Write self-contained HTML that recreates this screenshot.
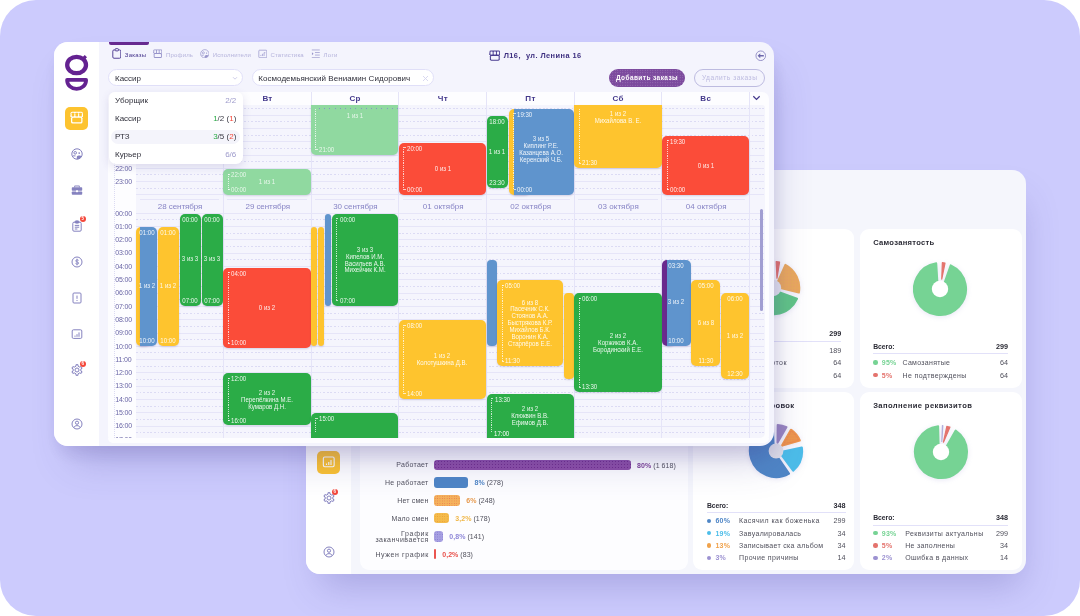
<!DOCTYPE html>
<html lang="ru"><head><meta charset="utf-8"><title>Расписание</title>
<style>
html,body{margin:0;padding:0;background:#fff}
body{width:1080px;height:616px;overflow:hidden;font-family:"Liberation Sans",sans-serif}
#stage{position:relative;width:1080px;height:616px;background:#cccbfd;border-radius:36px;overflow:hidden}
.win{position:absolute;width:720px;height:404px;border-radius:14px;background:#f4f4fd;box-shadow:8px 24px 38px -10px rgba(70,60,150,.26),2px 10px 18px -4px rgba(60,50,120,.15)}
.clip{position:absolute;left:0;top:0;width:720px;height:404px;border-radius:14px;overflow:hidden}
.clip div,.clip svg{position:absolute}
.t{white-space:nowrap}
.clip{will-change:transform}
.side{left:0;top:0;width:45px;height:404px;background:#fff}
.ev{border-radius:5px;box-shadow:0 1px 2px rgba(60,50,120,.18)}
.dl{width:1px;background:repeating-linear-gradient(180deg,rgba(255,255,255,.72) 0 1.2px,transparent 1.2px 2.2px)}
.tk{height:1px;background:rgba(255,255,255,.7)}
.hl{height:0;border-top:1px solid #e6e5f8}
.hd{height:1px;background:repeating-linear-gradient(90deg,#dcdbf4 0 1.8px,transparent 1.8px 3.6px)}
.vl{width:0;border-left:1px solid #e5e4f8}
.vd{width:0;border-left:1px dotted #dcdbf3}
.card{background:#fff;border-radius:9px}
</style></head>
<body><div id="stage">
<div class="win" style="left:306px;top:170px;background:#f5f6fc;box-shadow:5px 22px 36px -10px rgba(70,60,150,.26)"><div class="clip">
<div class="side" style="left:0px;top:0px;width:45px;height:404px;"></div>
<svg style="left:10px;top:9px" width="26" height="41" viewBox="0 0 26 41" ><g fill="none" stroke="#642291" stroke-width="4.3"><ellipse cx="12.6" cy="14" rx="9.4" ry="8.2"/><path d="M18.6 8.4l3.3-3.3" stroke-width="3.2"/><path d="M3.1 28.9h19c0 5.4-4.2 9-9.5 9s-9.5-3.6-9.5-9z" stroke-linejoin="round" stroke-width="3.8"/></g></svg>
<svg style="left:16.5px;top:70.5px" width="12" height="12" viewBox="0 0 12 12" ><rect x=".5" y=".6" width="11" height="5" rx="1.4" fill="#8582bf"/><path d="M.2 5.2L1 3.2h10l.8 2z" fill="#8582bf"/><rect x="1.5" y="1.6" width="2.3" height="3.3" rx=".4" fill="#fff"/><rect x="4.8" y="1.6" width="2.4" height="3.3" rx=".4" fill="#fff"/><rect x="8.2" y="1.6" width="2.3" height="3.3" rx=".4" fill="#fff"/><rect x=".9" y="5" width="10.2" height="6.2" rx="1.5" fill="#8582bf"/><rect x="2" y="6.1" width="8" height="3.9" rx=".7" fill="#fff"/></svg>
<svg style="left:16.5px;top:106px" width="12" height="12" viewBox="0 0 12 12" ><g fill="none" stroke="#8582bf" stroke-width="1"><circle cx="6" cy="6" r="5.2"/><circle cx="4.2" cy="4.8" r="1.3"/><path d="M2.4 7.9h1.7" stroke-linecap="round"/></g><circle cx="8.2" cy="5.1" r=".85" fill="#8582bf"/><path d="M5.8 8.6c1-1.3 3.8-1.3 4.9-.4c-.8 1.9-2.6 3-4.9 3z" fill="#8582bf"/></svg>
<svg style="left:16.5px;top:142px" width="12" height="12" viewBox="0 0 12 12" ><g fill="#8582bf"><path d="M4 1.6h4a.8.8 0 0 1 .8.8V3.4H7.9V2.5H4.1v.9H3.2V2.4a.8.8 0 0 1 .8-.8z"/><rect x=".8" y="3.2" width="10.4" height="3.6" rx=".8"/><rect x=".8" y="7.5" width="10.4" height="3.3" rx=".8"/><rect x="5" y="6.2" width="2" height="2" rx=".4" fill="#fff"/></g></svg>
<svg style="left:16.5px;top:178px" width="12" height="12" viewBox="0 0 12 12" ><g fill="none" stroke="#8582bf" stroke-width="1" stroke-linejoin="round"><rect x="1.8" y="2.2" width="8.4" height="9" rx="1.2"/><rect x="4.2" y=".9" width="3.6" height="2.2" rx=".6" fill="#8582bf"/><path d="M3.8 5.4h4.4M3.8 7.2h4.4M3.8 9h2.6"/></g></svg>
<div style="left:25.7px;top:174.2px;width:6px;height:6px;border-radius:50%;background:#f4473a"></div>
<div class="t" style="left:28.7px;top:174.2px;font-size:4.5px;line-height:6px;color:#fff;font-weight:700;transform:translateX(-50%);transform-origin:center center;">5</div>
<svg style="left:16.5px;top:214px" width="12" height="12" viewBox="0 0 12 12" ><g fill="none" stroke="#8582bf" stroke-width="1"><circle cx="6" cy="6" r="5"/><path d="M7.6 4.4c-.3-.7-2.9-.9-2.9.5c0 1.5 3 .7 3 2.2c0 1.4-2.8 1.2-3.2.3M6 2.7v6.6" stroke-width=".9"/></g></svg>
<svg style="left:16.5px;top:250px" width="12" height="12" viewBox="0 0 12 12" ><g fill="none" stroke="#8582bf" stroke-width="1"><rect x="2" y="1" width="8" height="10" rx="1"/><path d="M6 3.6v3.2M6 8v1"/></g></svg>
<div style="left:11px;top:280.5px;width:23px;height:23px;border-radius:5px;background:#fdc32f"></div>
<svg style="left:15.75px;top:284.65px" width="13.5" height="13.5" viewBox="0 0 12 12" ><g fill="none" stroke="#fff" stroke-width="1"><rect x="1.2" y="1.8" width="9.6" height="8.6" rx="1.2"/><path d="M4 8.8V7.6M6 8.8V6.2M8 8.8V4.4"/></g></svg>
<svg style="left:16.5px;top:322px" width="12" height="12" viewBox="0 0 12 12" ><g fill="none" stroke="#8582bf" stroke-width="1" stroke-linejoin="round"><path d="M4.98 0.7L7.02 0.7L7 2.13L8.85 3.19L10.08 2.47L11.1 4.23L9.86 4.93L9.86 7.07L11.1 7.77L10.08 9.53L8.85 8.81L7 9.87L7.02 11.3L4.98 11.3L5 9.87L3.15 8.81L1.92 9.53L0.9 7.77L2.14 7.07L2.14 4.93L0.9 4.23L1.92 2.47L3.15 3.19L5 2.13Z"/><circle cx="6" cy="6" r="2"/></g></svg>
<div style="left:25.8px;top:318.8px;width:6px;height:6px;border-radius:50%;background:#f4473a"></div>
<div class="t" style="left:28.8px;top:318.8px;font-size:4.5px;line-height:6px;color:#fff;font-weight:700;transform:translateX(-50%);transform-origin:center center;">6</div>
<svg style="left:16.5px;top:375.8px" width="12" height="12" viewBox="0 0 12 12" ><g fill="none" stroke="#8582bf" stroke-width="1"><circle cx="6" cy="6" r="5"/><circle cx="6" cy="4.7" r="1.6"/><path d="M2.9 9.6c.6-2.6 5.6-2.6 6.2 0"/></g></svg>
<div class="card" style="left:387.4px;top:58.5px;width:160.6px;height:159px;"></div>
<svg style="left:435.2px;top:86.2px;filter:drop-shadow(0 1px 2.5px rgba(110,100,190,.16))" width="64" height="64" viewBox="0 0 64 64" ><path d="M56 42.76A26.3 26.3 0 1 1 27.82 6.03L30.11 32.17L31.35 33.79Z" fill="#62c688" stroke="#62c688" stroke-width="2" stroke-linejoin="round"/><pattern id="pt1" width="1.8" height="1.8" patternUnits="userSpaceOnUse"><circle cx="0.9" cy="0.9" r="0.4" fill="rgba(60,160,100,.5)"/></pattern><path d="M56 42.76A26.3 26.3 0 1 1 27.82 6.03L30.11 32.17L31.35 33.79Z" fill="url(#pt1)"/><path d="M35.16 5.49A26.7 26.7 0 0 1 38.56 6.12L35.97 22.17Z" fill="#e4736d" stroke="#e4736d" stroke-width="1.2" stroke-linejoin="round"/><path d="M44.4 8.81A26.3 26.3 0 0 1 57.91 36.5L34.66 30.7Z" fill="#eaa95c" stroke="#eaa95c" stroke-width="2" stroke-linejoin="round"/><pattern id="pt2" width="3.2" height="3.2" patternUnits="userSpaceOnUse"><circle cx="1.6" cy="1.6" r="0.45" fill="rgba(240,120,140,.55)"/></pattern><path d="M44.4 8.81A26.3 26.3 0 0 1 57.91 36.5L34.66 30.7Z" fill="url(#pt2)"/><circle cx="32.0" cy="32.0" r="8.2" fill="#e4e4ee"/></svg>
<div class="t" style="left:400.9px;top:158.9px;font-size:6.8px;line-height:9px;color:#2b2b35;font-weight:700;letter-spacing:-0.067px;">Всего:</div>
<div class="t" style="left:535.3px;top:158.9px;font-size:7.2px;line-height:9px;color:#2b2b35;font-weight:700;transform:translateX(-100%);transform-origin:right center;">299</div>
<div style="left:400.9px;top:170.6px;width:134.4px;height:1px;background:#e2e1f9"></div>
<div style="left:401.1px;top:178.2px;width:4.4px;height:4.4px;background:#76d394;border-radius:50%"></div>
<div class="t" style="left:409.5px;top:175.9px;font-size:7px;line-height:9px;color:#76d394;font-weight:700;letter-spacing:0.2px;">63%</div>
<div class="t" style="left:423.5px;top:175.9px;font-size:7px;line-height:9px;color:#50505c;letter-spacing:0.35px;">Работают</div>
<div class="t" style="left:535.3px;top:175.9px;font-size:7.2px;line-height:9px;color:#50505c;transform:translateX(-100%);transform-origin:right center;">189</div>
<div style="left:401.1px;top:190.6px;width:4.4px;height:4.4px;background:#eaa95c;border-radius:50%"></div>
<div class="t" style="left:409.5px;top:188.3px;font-size:7px;line-height:9px;color:#eaa95c;font-weight:700;letter-spacing:0.2px;">21%</div>
<div class="t" style="left:423.5px;top:188.3px;font-size:7px;line-height:9px;color:#50505c;letter-spacing:0.454px;">Нет подработок</div>
<div class="t" style="left:535.3px;top:188.3px;font-size:7.2px;line-height:9px;color:#50505c;transform:translateX(-100%);transform-origin:right center;">64</div>
<div style="left:401.1px;top:203px;width:4.4px;height:4.4px;background:#e4736d;border-radius:50%"></div>
<div class="t" style="left:409.5px;top:200.7px;font-size:7px;line-height:9px;color:#e4736d;font-weight:700;letter-spacing:0.2px;">21%</div>
<div class="t" style="left:423.5px;top:200.7px;font-size:7px;line-height:9px;color:#50505c;letter-spacing:0.35px;">Уволены</div>
<div class="t" style="left:535.3px;top:200.7px;font-size:7.2px;line-height:9px;color:#50505c;transform:translateX(-100%);transform-origin:right center;">64</div>
<div class="card" style="left:553.5px;top:58.5px;width:162px;height:159px;"></div>
<div class="t" style="left:567.2px;top:67.6px;font-size:7.6px;line-height:10px;color:#2b2b35;font-weight:700;letter-spacing:0.284px;">Самозанятость</div>
<svg style="left:602.3px;top:86.8px;filter:drop-shadow(0 1px 2.5px rgba(110,100,190,.16))" width="64" height="64" viewBox="0 0 64 64" ><path d="M42.72 8.31A26 26 0 1 1 28.22 6.28L29.8 32.13L34.07 32.73Z" fill="#76d394" stroke="#76d394" stroke-width="2" stroke-linejoin="round"/><path d="M34.35 5.7A26.4 26.4 0 0 1 36.99 6.08L33.75 22.05Z" fill="#e4736d" stroke="#e4736d" stroke-width="1.2" stroke-linejoin="round"/><circle cx="32.0" cy="32.0" r="8.2" fill="#fff"/></svg>
<div class="t" style="left:567.2px;top:171.5px;font-size:6.8px;line-height:9px;color:#2b2b35;font-weight:700;letter-spacing:-0.067px;">Всего:</div>
<div class="t" style="left:702px;top:171.5px;font-size:7.2px;line-height:9px;color:#2b2b35;font-weight:700;transform:translateX(-100%);transform-origin:right center;">299</div>
<div style="left:567.2px;top:183.2px;width:134.8px;height:1px;background:#e2e1f9"></div>
<div style="left:567.4px;top:190.3px;width:4.4px;height:4.4px;background:#76d394;border-radius:50%"></div>
<div class="t" style="left:575.8px;top:188px;font-size:7px;line-height:9px;color:#76d394;font-weight:700;letter-spacing:0.2px;">95%</div>
<div class="t" style="left:596.5px;top:188px;font-size:7px;line-height:9px;color:#50505c;letter-spacing:0.296px;">Самозанятые</div>
<div class="t" style="left:702px;top:188px;font-size:7.2px;line-height:9px;color:#50505c;transform:translateX(-100%);transform-origin:right center;">64</div>
<div style="left:567.4px;top:202.8px;width:4.4px;height:4.4px;background:#e4736d;border-radius:50%"></div>
<div class="t" style="left:575.8px;top:200.5px;font-size:7px;line-height:9px;color:#e4736d;font-weight:700;letter-spacing:0.2px;">5%</div>
<div class="t" style="left:596.5px;top:200.5px;font-size:7px;line-height:9px;color:#50505c;letter-spacing:0.361px;">Не подтверждены</div>
<div class="t" style="left:702px;top:200.5px;font-size:7.2px;line-height:9px;color:#50505c;transform:translateX(-100%);transform-origin:right center;">64</div>
<div class="card" style="left:387.4px;top:222px;width:160.6px;height:178px;"></div>
<div class="t" style="left:488.3px;top:230.6px;font-size:7.6px;line-height:10px;color:#2b2b35;font-weight:700;letter-spacing:0.3px;transform:translateX(-100%);transform-origin:right center;">Причины блокировок</div>
<svg style="left:438.2px;top:249.1px;filter:drop-shadow(0 1px 2.5px rgba(110,100,190,.16))" width="64" height="64" viewBox="0 0 64 64" ><path d="M45 54.63A26.1 26.1 0 1 1 28.77 6.1L29.9 32.09L30.27 33.19Z" fill="#4f86c6" stroke="#4f86c6" stroke-width="2" stroke-linejoin="round"/><path d="M57.85 28.42A26.1 26.1 0 0 1 49.16 51.66L35.61 33.35Z" fill="#4cbde9" stroke="#4cbde9" stroke-width="2" stroke-linejoin="round"/><path d="M47.1 10.96A25.9 25.9 0 0 1 55.63 21.4L38.29 26.43Z" fill="#f0a24b" stroke="#f0a24b" stroke-width="2.4" stroke-linejoin="round"/><pattern id="pt3" width="1.6" height="1.6" patternUnits="userSpaceOnUse"><circle cx="0.8" cy="0.8" r="0.5" fill="rgba(232,82,74,.55)"/></pattern><path d="M47.1 10.96A25.9 25.9 0 0 1 55.63 21.4L38.29 26.43Z" fill="url(#pt3)" stroke="url(#pt3)" stroke-width="2.4" stroke-linejoin="round"/><path d="M33.68 5.95A26.1 26.1 0 0 1 42.53 8.12L33.48 23.63Z" fill="#9a86c0" stroke="#9a86c0" stroke-width="2" stroke-linejoin="round"/><circle cx="32.0" cy="32.0" r="7.4" fill="#dedee8"/></svg>
<div class="t" style="left:400.9px;top:330.5px;font-size:6.8px;line-height:9px;color:#2b2b35;font-weight:700;letter-spacing:-0.067px;">Всего:</div>
<div class="t" style="left:539.6px;top:330.5px;font-size:7.2px;line-height:9px;color:#2b2b35;font-weight:700;transform:translateX(-100%);transform-origin:right center;">348</div>
<div style="left:400.9px;top:342.2px;width:138.7px;height:1px;background:#e2e1f9"></div>
<div style="left:401.1px;top:348.7px;width:4.4px;height:4.4px;background:#4f86c6;border-radius:50%"></div>
<div class="t" style="left:409.5px;top:346.4px;font-size:7px;line-height:9px;color:#4f86c6;font-weight:700;letter-spacing:0.2px;">60%</div>
<div class="t" style="left:433px;top:346.4px;font-size:7px;line-height:9px;color:#50505c;letter-spacing:0.443px;">Касячил как боженька</div>
<div class="t" style="left:539.6px;top:346.4px;font-size:7.2px;line-height:9px;color:#50505c;transform:translateX(-100%);transform-origin:right center;">299</div>
<div style="left:401.1px;top:361px;width:4.4px;height:4.4px;background:#4cbde9;border-radius:50%"></div>
<div class="t" style="left:409.5px;top:358.7px;font-size:7px;line-height:9px;color:#4cbde9;font-weight:700;letter-spacing:0.2px;">19%</div>
<div class="t" style="left:433px;top:358.7px;font-size:7px;line-height:9px;color:#50505c;letter-spacing:0.326px;">Завуалировалась</div>
<div class="t" style="left:539.6px;top:358.7px;font-size:7.2px;line-height:9px;color:#50505c;transform:translateX(-100%);transform-origin:right center;">34</div>
<div style="left:401.1px;top:373.3px;width:4.4px;height:4.4px;background:#f0a24b;border-radius:50%"></div>
<div class="t" style="left:409.5px;top:371px;font-size:7px;line-height:9px;color:#f0a24b;font-weight:700;letter-spacing:0.2px;">13%</div>
<div class="t" style="left:433px;top:371px;font-size:7px;line-height:9px;color:#50505c;letter-spacing:0.32px;">Записывает ска альбом</div>
<div class="t" style="left:539.6px;top:371px;font-size:7.2px;line-height:9px;color:#50505c;transform:translateX(-100%);transform-origin:right center;">34</div>
<div style="left:401.1px;top:385.6px;width:4.4px;height:4.4px;background:#9c92d1;border-radius:50%"></div>
<div class="t" style="left:409.5px;top:383.3px;font-size:7px;line-height:9px;color:#9c92d1;font-weight:700;letter-spacing:0.2px;">3%</div>
<div class="t" style="left:433px;top:383.3px;font-size:7px;line-height:9px;color:#50505c;letter-spacing:0.399px;">Прочие причины</div>
<div class="t" style="left:539.6px;top:383.3px;font-size:7.2px;line-height:9px;color:#50505c;transform:translateX(-100%);transform-origin:right center;">14</div>
<div class="card" style="left:553.5px;top:222px;width:162px;height:178px;"></div>
<div class="t" style="left:567.2px;top:230.6px;font-size:7.6px;line-height:10px;color:#2b2b35;font-weight:700;letter-spacing:0.403px;">Заполнение реквизитов</div>
<svg style="left:602.5px;top:249.5px;filter:drop-shadow(0 1px 2.5px rgba(110,100,190,.16))" width="64" height="64" viewBox="0 0 64 64" ><path d="M46.67 10.54A26 26 0 1 1 29.12 6.16L29.8 32.06L33.91 33.08Z" fill="#76d394" stroke="#76d394" stroke-width="2" stroke-linejoin="round"/><path d="M37.85 6.26A26.4 26.4 0 0 1 40.9 7.14L34.44 22.2Z" fill="#e4736d" stroke="#e4736d" stroke-width="1.2" stroke-linejoin="round"/><path d="M33.8 5.66A26.4 26.4 0 0 1 33.43 5.64L32.83 21.43Z" fill="#b4afdc" stroke="#b4afdc" stroke-width="1.2" stroke-linejoin="round"/><circle cx="32.0" cy="32.0" r="8.2" fill="#fff"/></svg>
<div class="t" style="left:567.2px;top:342.9px;font-size:6.8px;line-height:9px;color:#2b2b35;font-weight:700;letter-spacing:-0.067px;">Всего:</div>
<div class="t" style="left:702px;top:342.9px;font-size:7.2px;line-height:9px;color:#2b2b35;font-weight:700;transform:translateX(-100%);transform-origin:right center;">348</div>
<div style="left:567.2px;top:354.6px;width:134.8px;height:1px;background:#e2e1f9"></div>
<div style="left:567.4px;top:360.9px;width:4.4px;height:4.4px;background:#76d394;border-radius:50%"></div>
<div class="t" style="left:575.8px;top:358.6px;font-size:7px;line-height:9px;color:#76d394;font-weight:700;letter-spacing:0.2px;">93%</div>
<div class="t" style="left:599.2px;top:358.6px;font-size:7px;line-height:9px;color:#50505c;letter-spacing:0.416px;">Реквизиты актуальны</div>
<div class="t" style="left:702px;top:358.6px;font-size:7.2px;line-height:9px;color:#50505c;transform:translateX(-100%);transform-origin:right center;">299</div>
<div style="left:567.4px;top:373.2px;width:4.4px;height:4.4px;background:#e4736d;border-radius:50%"></div>
<div class="t" style="left:575.8px;top:370.9px;font-size:7px;line-height:9px;color:#e4736d;font-weight:700;letter-spacing:0.2px;">5%</div>
<div class="t" style="left:599.2px;top:370.9px;font-size:7px;line-height:9px;color:#50505c;letter-spacing:0.312px;">Не заполнены</div>
<div class="t" style="left:702px;top:370.9px;font-size:7.2px;line-height:9px;color:#50505c;transform:translateX(-100%);transform-origin:right center;">34</div>
<div style="left:567.4px;top:385.5px;width:4.4px;height:4.4px;background:#9c92d1;border-radius:50%"></div>
<div class="t" style="left:575.8px;top:383.2px;font-size:7px;line-height:9px;color:#9c92d1;font-weight:700;letter-spacing:0.2px;">2%</div>
<div class="t" style="left:599.2px;top:383.2px;font-size:7px;line-height:9px;color:#50505c;letter-spacing:0.354px;">Ошибка в данных</div>
<div class="t" style="left:702px;top:383.2px;font-size:7.2px;line-height:9px;color:#50505c;transform:translateX(-100%);transform-origin:right center;">14</div>
<div style="left:54px;top:58.5px;width:328px;height:341.5px;background:linear-gradient(180deg,#f1f1f8,#fdfdff 60%);border-radius:9px"></div>
<div class="t" style="left:122.59px;top:290.4px;font-size:7px;line-height:9px;color:#50505c;letter-spacing:0.29px;transform:translateX(-100%);transform-origin:right center;">Работает</div>
<div style="left:128.3px;top:289.7px;width:196.6px;height:10.4px;background-color:#8c4ea6;border-radius:3px;background-image:radial-gradient(rgba(90,20,120,.55) .5px,transparent .65px);background-size:3px 3px"></div>
<div class="t" style="left:331.1px;top:290.7px;font-size:7px;line-height:9px;color:#50505c;letter-spacing:0.05px;"><b style="color:#7a3f96">80%</b> (1 618)</div>
<div class="t" style="left:122.61px;top:308.1px;font-size:7px;line-height:9px;color:#50505c;letter-spacing:0.308px;transform:translateX(-100%);transform-origin:right center;">Не работает</div>
<div style="left:128.3px;top:307.4px;width:34px;height:10.4px;background-color:#4f86c6;border-radius:3px;"></div>
<div class="t" style="left:168.5px;top:308.4px;font-size:7px;line-height:9px;color:#50505c;letter-spacing:0.05px;"><b style="color:#4f86c6">8%</b> (278)</div>
<div class="t" style="left:122.47px;top:326.1px;font-size:7px;line-height:9px;color:#50505c;letter-spacing:0.166px;transform:translateX(-100%);transform-origin:right center;">Нет смен</div>
<div style="left:128.3px;top:325.4px;width:25.7px;height:10.4px;background-color:#f4b25c;border-radius:3px;background-image:radial-gradient(rgba(228,80,70,.6) .5px,transparent .65px);background-size:2.4px 2.4px"></div>
<div class="t" style="left:160.2px;top:326.4px;font-size:7px;line-height:9px;color:#50505c;letter-spacing:0.05px;"><b style="color:#e79a4e">6%</b> (248)</div>
<div class="t" style="left:122.43px;top:343.8px;font-size:7px;line-height:9px;color:#50505c;letter-spacing:0.128px;transform:translateX(-100%);transform-origin:right center;">Мало смен</div>
<div style="left:128.3px;top:343.1px;width:14.8px;height:10.4px;background-color:#f4bc4c;border-radius:3px;background-image:radial-gradient(rgba(235,150,50,.9) .5px,transparent .65px);background-size:2.4px 2.4px"></div>
<div class="t" style="left:149.3px;top:344.1px;font-size:7px;line-height:9px;color:#50505c;letter-spacing:0.05px;"><b style="color:#f0b84a">3,2%</b> (178)</div>
<div class="t" style="left:123px;top:358.7px;font-size:7px;line-height:9px;color:#50505c;letter-spacing:0.697px;transform:translateX(-100%);transform-origin:right center;">График</div>
<div class="t" style="left:122.77px;top:365.3px;font-size:7px;line-height:9px;color:#50505c;letter-spacing:0.471px;transform:translateX(-100%);transform-origin:right center;">заканчивается</div>
<div style="left:128.3px;top:361.4px;width:8.8px;height:10.4px;background-color:#a7a0e2;border-radius:3px;background-image:radial-gradient(rgba(120,110,200,.8) .5px,transparent .65px);background-size:2.4px 2.4px"></div>
<div class="t" style="left:143.3px;top:362.4px;font-size:7px;line-height:9px;color:#50505c;letter-spacing:0.05px;"><b style="color:#8f88d8">0,8%</b> (141)</div>
<div class="t" style="left:122.92px;top:379.8px;font-size:7px;line-height:9px;color:#50505c;letter-spacing:0.619px;transform:translateX(-100%);transform-origin:right center;">Нужен график</div>
<div style="left:128.3px;top:379.1px;width:1.7px;height:10.4px;background-color:#ea5550;border-radius:1px;"></div>
<div class="t" style="left:136.2px;top:380.1px;font-size:7px;line-height:9px;color:#50505c;letter-spacing:0.05px;"><b style="color:#e8504a">0,2%</b> (83)</div>
</div></div>
<div class="win" style="left:54px;top:42px"><div class="clip">
<div class="side" style="left:0px;top:0px;width:45px;height:404px;"></div>
<svg style="left:10px;top:9px" width="26" height="41" viewBox="0 0 26 41" ><g fill="none" stroke="#642291" stroke-width="4.3"><ellipse cx="12.6" cy="14" rx="9.4" ry="8.2"/><path d="M18.6 8.4l3.3-3.3" stroke-width="3.2"/><path d="M3.1 28.9h19c0 5.4-4.2 9-9.5 9s-9.5-3.6-9.5-9z" stroke-linejoin="round" stroke-width="3.8"/></g></svg>
<div style="left:11px;top:65px;width:23px;height:23px;border-radius:5px;background:#fdc32f"></div>
<svg style="left:15.75px;top:69.15px" width="13.5" height="13.5" viewBox="0 0 12 12" ><rect x=".5" y=".6" width="11" height="5" rx="1.4" fill="#fff"/><path d="M.2 5.2L1 3.2h10l.8 2z" fill="#fff"/><rect x="1.5" y="1.6" width="2.3" height="3.3" rx=".4" fill="#fdc32f"/><rect x="4.8" y="1.6" width="2.4" height="3.3" rx=".4" fill="#fdc32f"/><rect x="8.2" y="1.6" width="2.3" height="3.3" rx=".4" fill="#fdc32f"/><rect x=".9" y="5" width="10.2" height="6.2" rx="1.5" fill="#fff"/><rect x="2" y="6.1" width="8" height="3.9" rx=".7" fill="#fdc32f"/></svg>
<svg style="left:16.5px;top:106px" width="12" height="12" viewBox="0 0 12 12" ><g fill="none" stroke="#8582bf" stroke-width="1"><circle cx="6" cy="6" r="5.2"/><circle cx="4.2" cy="4.8" r="1.3"/><path d="M2.4 7.9h1.7" stroke-linecap="round"/></g><circle cx="8.2" cy="5.1" r=".85" fill="#8582bf"/><path d="M5.8 8.6c1-1.3 3.8-1.3 4.9-.4c-.8 1.9-2.6 3-4.9 3z" fill="#8582bf"/></svg>
<svg style="left:16.5px;top:142px" width="12" height="12" viewBox="0 0 12 12" ><g fill="#8582bf"><path d="M4 1.6h4a.8.8 0 0 1 .8.8V3.4H7.9V2.5H4.1v.9H3.2V2.4a.8.8 0 0 1 .8-.8z"/><rect x=".8" y="3.2" width="10.4" height="3.6" rx=".8"/><rect x=".8" y="7.5" width="10.4" height="3.3" rx=".8"/><rect x="5" y="6.2" width="2" height="2" rx=".4" fill="#fff"/></g></svg>
<svg style="left:16.5px;top:178px" width="12" height="12" viewBox="0 0 12 12" ><g fill="none" stroke="#8582bf" stroke-width="1" stroke-linejoin="round"><rect x="1.8" y="2.2" width="8.4" height="9" rx="1.2"/><rect x="4.2" y=".9" width="3.6" height="2.2" rx=".6" fill="#8582bf"/><path d="M3.8 5.4h4.4M3.8 7.2h4.4M3.8 9h2.6"/></g></svg>
<div style="left:25.7px;top:174.2px;width:6px;height:6px;border-radius:50%;background:#f4473a"></div>
<div class="t" style="left:28.7px;top:174.2px;font-size:4.5px;line-height:6px;color:#fff;font-weight:700;transform:translateX(-50%);transform-origin:center center;">5</div>
<svg style="left:16.5px;top:214px" width="12" height="12" viewBox="0 0 12 12" ><g fill="none" stroke="#8582bf" stroke-width="1"><circle cx="6" cy="6" r="5"/><path d="M7.6 4.4c-.3-.7-2.9-.9-2.9.5c0 1.5 3 .7 3 2.2c0 1.4-2.8 1.2-3.2.3M6 2.7v6.6" stroke-width=".9"/></g></svg>
<svg style="left:16.5px;top:250px" width="12" height="12" viewBox="0 0 12 12" ><g fill="none" stroke="#8582bf" stroke-width="1"><rect x="2" y="1" width="8" height="10" rx="1"/><path d="M6 3.6v3.2M6 8v1"/></g></svg>
<svg style="left:16.5px;top:286px" width="12" height="12" viewBox="0 0 12 12" ><g fill="none" stroke="#8582bf" stroke-width="1"><rect x="1.2" y="1.8" width="9.6" height="8.6" rx="1.2"/><path d="M4 8.8V7.6M6 8.8V6.2M8 8.8V4.4"/></g></svg>
<svg style="left:16.5px;top:322px" width="12" height="12" viewBox="0 0 12 12" ><g fill="none" stroke="#8582bf" stroke-width="1" stroke-linejoin="round"><path d="M4.98 0.7L7.02 0.7L7 2.13L8.85 3.19L10.08 2.47L11.1 4.23L9.86 4.93L9.86 7.07L11.1 7.77L10.08 9.53L8.85 8.81L7 9.87L7.02 11.3L4.98 11.3L5 9.87L3.15 8.81L1.92 9.53L0.9 7.77L2.14 7.07L2.14 4.93L0.9 4.23L1.92 2.47L3.15 3.19L5 2.13Z"/><circle cx="6" cy="6" r="2"/></g></svg>
<div style="left:25.8px;top:318.8px;width:6px;height:6px;border-radius:50%;background:#f4473a"></div>
<div class="t" style="left:28.8px;top:318.8px;font-size:4.5px;line-height:6px;color:#fff;font-weight:700;transform:translateX(-50%);transform-origin:center center;">6</div>
<svg style="left:16.5px;top:375.8px" width="12" height="12" viewBox="0 0 12 12" ><g fill="none" stroke="#8582bf" stroke-width="1"><circle cx="6" cy="6" r="5"/><circle cx="6" cy="4.7" r="1.6"/><path d="M2.9 9.6c.6-2.6 5.6-2.6 6.2 0"/></g></svg>
<div style="left:54.5px;top:0px;width:40px;height:2.5px;background:#672a90;border-radius:0 0 2px 2px"></div>
<svg style="left:57.7px;top:5.9px" width="9.6" height="10.8" viewBox="0 0 12 13.5" ><g fill="none" stroke="#4a3790" stroke-width="1.15" stroke-linejoin="round"><rect x="1" y="2.4" width="10" height="10.4" rx="1.5"/><rect x="4" y=".8" width="4" height="2.8" rx=".8" fill="#f4f4fd"/></g></svg>
<div class="t" style="left:70.8px;top:8.7px;font-size:6px;line-height:8px;color:#45348c;letter-spacing:0.25px;">Заказы</div>
<svg style="left:98.6px;top:6.8px" width="9.6" height="9.6" viewBox="0 0 12 12" ><rect x=".5" y=".6" width="11" height="5" rx="1.4" fill="#9895cb"/><path d="M.2 5.2L1 3.2h10l.8 2z" fill="#9895cb"/><rect x="1.5" y="1.6" width="2.3" height="3.3" rx=".4" fill="#f4f4fd"/><rect x="4.8" y="1.6" width="2.4" height="3.3" rx=".4" fill="#f4f4fd"/><rect x="8.2" y="1.6" width="2.3" height="3.3" rx=".4" fill="#f4f4fd"/><rect x=".9" y="5" width="10.2" height="6.2" rx="1.5" fill="#9895cb"/><rect x="2" y="6.1" width="8" height="3.9" rx=".7" fill="#f4f4fd"/></svg>
<div class="t" style="left:112px;top:8.7px;font-size:6px;line-height:8px;color:#b5b3dc;letter-spacing:0.183px;">Профиль</div>
<svg style="left:145.8px;top:6.8px" width="9.6" height="9.6" viewBox="0 0 12 12" ><g fill="none" stroke="#9895cb" stroke-width="0.9"><circle cx="6" cy="6" r="5.2"/><circle cx="4.2" cy="4.8" r="1.3"/><path d="M2.4 7.9h1.7" stroke-linecap="round"/></g><circle cx="8.2" cy="5.1" r=".85" fill="#9895cb"/><path d="M5.8 8.6c1-1.3 3.8-1.3 4.9-.4c-.8 1.9-2.6 3-4.9 3z" fill="#9895cb"/></svg>
<div class="t" style="left:158.7px;top:8.7px;font-size:6px;line-height:8px;color:#b5b3dc;letter-spacing:0.16px;">Исполнители</div>
<svg style="left:203.6px;top:6.8px" width="9.6" height="9.6" viewBox="0 0 12 12" ><g fill="none" stroke="#9895cb" stroke-width="0.9"><rect x="1" y="1.5" width="10" height="9.4" rx="1"/><path d="M3.6 8.8V7.4M5.6 8.8V6M7.6 8.8V4.6h1.6"/></g></svg>
<div class="t" style="left:216.4px;top:8.7px;font-size:6px;line-height:8px;color:#b5b3dc;letter-spacing:0.199px;">Статистика</div>
<svg style="left:256.6px;top:6.8px" width="9.6" height="9.6" viewBox="0 0 12 12" ><g fill="none" stroke="#9895cb" stroke-width="0.9"><path d="M1 1.2h10M5 4.4h6M5 7.6h6M1 10.8h10"/><path d="M1.2 4.2l2 1.8l-2 1.8z" fill="#9895cb" stroke="none"/></g></svg>
<div class="t" style="left:269.4px;top:8.7px;font-size:6px;line-height:8px;color:#b5b3dc;letter-spacing:0.362px;">Логи</div>
<svg style="left:434.6px;top:7.9px" width="11.6" height="11.6" viewBox="0 0 12 12" ><rect x=".5" y=".6" width="11" height="5" rx="1.4" fill="#4a3d91"/><path d="M.2 5.2L1 3.2h10l.8 2z" fill="#4a3d91"/><rect x="1.5" y="1.6" width="2.3" height="3.3" rx=".4" fill="#f4f4fd"/><rect x="4.8" y="1.6" width="2.4" height="3.3" rx=".4" fill="#f4f4fd"/><rect x="8.2" y="1.6" width="2.3" height="3.3" rx=".4" fill="#f4f4fd"/><rect x=".9" y="5" width="10.2" height="6.2" rx="1.5" fill="#4a3d91"/><rect x="2" y="6.1" width="8" height="3.9" rx=".7" fill="#f4f4fd"/></svg>
<div class="t" style="left:449.7px;top:9.1px;font-size:7.4px;line-height:9px;color:#3d2f80;font-weight:700;letter-spacing:0.438px;">Л16,&nbsp; ул. Ленина 16</div>
<svg style="left:700.5px;top:7.8px" width="11.5" height="11.5" viewBox="0 0 12 12" ><g fill="none" stroke="#8884bf" stroke-width=".9"><circle cx="6" cy="6" r="5"/></g><path d="M2.7 6l2.8-2.5v1.6h3.7v1.8H5.5v1.6z" fill="#6d68ac"/></svg>
<div style="left:54.2px;top:27.4px;width:134.4px;height:17.1px;background:#fff;border:1px solid #e0dff8;border-radius:9px;box-sizing:border-box"></div>
<div class="t" style="left:61px;top:31.5px;font-size:8px;line-height:10px;color:#2f2f3a;">Кассир</div>
<svg style="left:177.5px;top:34px" width="6" height="5" viewBox="0 0 6 5" ><path d="M1 1.2l2 2l2-2" fill="none" stroke="#c9c8e6" stroke-width=".9"/></svg>
<div style="left:198px;top:27.4px;width:182px;height:17.1px;background:#fff;border:1px solid #e0dff8;border-radius:9px;box-sizing:border-box"></div>
<div class="t" style="left:204.2px;top:31.5px;font-size:8px;line-height:10px;color:#2f2f3a;letter-spacing:0.062px;">Космодемьянский Вениамин Сидорович</div>
<svg style="left:367.5px;top:32.5px" width="7" height="7" viewBox="0 0 7 7" ><path d="M1 1l5 5M6 1l-5 5" fill="none" stroke="#d5d4ee" stroke-width=".9"/></svg>
<div style="left:554.5px;top:27.3px;width:76.5px;height:17.5px;background-color:#7c4a9e;border-radius:9px;background-image:radial-gradient(rgba(255,255,255,.28) .45px,transparent .6px);background-size:2.5px 2.5px"></div>
<div class="t" style="left:593.01px;top:32.2px;font-size:6.5px;line-height:8px;color:#fff;font-weight:700;letter-spacing:0.427px;transform:translateX(-50%);transform-origin:center center;">Добавить заказы</div>
<div style="left:640.3px;top:27.3px;width:70.7px;height:17.5px;border:1px solid #bdbbe0;border-radius:9px;box-sizing:border-box"></div>
<div class="t" style="left:675.66px;top:32.2px;font-size:6.6px;line-height:8px;color:#bdbbe0;letter-spacing:0.529px;transform:translateX(-50%);transform-origin:center center;">Удалить заказы</div>
<div style="left:54.3px;top:49.5px;width:661.1px;height:351.4px;background:#fdfdff;border-radius:7px"></div>
<div style="left:81.8px;top:62.5px;width:628.9px;height:333.2px;background:#f5f5fd;border-radius:0 3px 5px 0"></div>
<div class="hd" style="left:81.8px;top:65.95px;width:628.7px;height:1px;"></div>
<div class="hl" style="left:81.8px;top:72.6px;width:628.7px;height:1px;"></div>
<div class="hd" style="left:81.8px;top:79.25px;width:628.7px;height:1px;"></div>
<div class="hl" style="left:81.8px;top:85.9px;width:628.7px;height:1px;"></div>
<div class="hd" style="left:81.8px;top:92.55px;width:628.7px;height:1px;"></div>
<div class="hl" style="left:81.8px;top:99.2px;width:628.7px;height:1px;"></div>
<div class="hd" style="left:81.8px;top:105.85px;width:628.7px;height:1px;"></div>
<div class="hl" style="left:81.8px;top:112.5px;width:628.7px;height:1px;"></div>
<div class="hd" style="left:81.8px;top:119.15px;width:628.7px;height:1px;"></div>
<div class="hl" style="left:81.8px;top:125.8px;width:628.7px;height:1px;"></div>
<div class="hd" style="left:81.8px;top:132.45px;width:628.7px;height:1px;"></div>
<div class="hl" style="left:81.8px;top:139.1px;width:628.7px;height:1px;"></div>
<div class="hd" style="left:81.8px;top:145.75px;width:628.7px;height:1px;"></div>
<div class="hl" style="left:81.8px;top:152.4px;width:628.7px;height:1px;"></div>
<div class="hl" style="left:81.8px;top:170.8px;width:628.7px;height:1px;"></div>
<div class="hd" style="left:81.8px;top:177.45px;width:628.7px;height:1px;"></div>
<div class="hl" style="left:81.8px;top:184.1px;width:628.7px;height:1px;"></div>
<div class="hd" style="left:81.8px;top:190.75px;width:628.7px;height:1px;"></div>
<div class="hl" style="left:81.8px;top:197.4px;width:628.7px;height:1px;"></div>
<div class="hd" style="left:81.8px;top:204.05px;width:628.7px;height:1px;"></div>
<div class="hl" style="left:81.8px;top:210.7px;width:628.7px;height:1px;"></div>
<div class="hd" style="left:81.8px;top:217.35px;width:628.7px;height:1px;"></div>
<div class="hl" style="left:81.8px;top:224px;width:628.7px;height:1px;"></div>
<div class="hd" style="left:81.8px;top:230.65px;width:628.7px;height:1px;"></div>
<div class="hl" style="left:81.8px;top:237.3px;width:628.7px;height:1px;"></div>
<div class="hd" style="left:81.8px;top:243.95px;width:628.7px;height:1px;"></div>
<div class="hl" style="left:81.8px;top:250.6px;width:628.7px;height:1px;"></div>
<div class="hd" style="left:81.8px;top:257.25px;width:628.7px;height:1px;"></div>
<div class="hl" style="left:81.8px;top:263.9px;width:628.7px;height:1px;"></div>
<div class="hd" style="left:81.8px;top:270.55px;width:628.7px;height:1px;"></div>
<div class="hl" style="left:81.8px;top:277.2px;width:628.7px;height:1px;"></div>
<div class="hd" style="left:81.8px;top:283.85px;width:628.7px;height:1px;"></div>
<div class="hl" style="left:81.8px;top:290.5px;width:628.7px;height:1px;"></div>
<div class="hd" style="left:81.8px;top:297.15px;width:628.7px;height:1px;"></div>
<div class="hl" style="left:81.8px;top:303.8px;width:628.7px;height:1px;"></div>
<div class="hd" style="left:81.8px;top:310.45px;width:628.7px;height:1px;"></div>
<div class="hl" style="left:81.8px;top:317.1px;width:628.7px;height:1px;"></div>
<div class="hd" style="left:81.8px;top:323.75px;width:628.7px;height:1px;"></div>
<div class="hl" style="left:81.8px;top:330.4px;width:628.7px;height:1px;"></div>
<div class="hd" style="left:81.8px;top:337.05px;width:628.7px;height:1px;"></div>
<div class="hl" style="left:81.8px;top:343.7px;width:628.7px;height:1px;"></div>
<div class="hd" style="left:81.8px;top:350.35px;width:628.7px;height:1px;"></div>
<div class="hl" style="left:81.8px;top:357px;width:628.7px;height:1px;"></div>
<div class="hd" style="left:81.8px;top:363.65px;width:628.7px;height:1px;"></div>
<div class="hl" style="left:81.8px;top:370.3px;width:628.7px;height:1px;"></div>
<div class="hd" style="left:81.8px;top:376.95px;width:628.7px;height:1px;"></div>
<div class="hl" style="left:81.8px;top:383.6px;width:628.7px;height:1px;"></div>
<div class="hd" style="left:81.8px;top:390.25px;width:628.7px;height:1px;"></div>
<div class="hl" style="left:85.8px;top:157px;width:79.66px;height:1px;"></div>
<div class="hl" style="left:173.46px;top:157px;width:79.66px;height:1px;"></div>
<div class="hl" style="left:261.12px;top:157px;width:79.66px;height:1px;"></div>
<div class="hl" style="left:348.78px;top:157px;width:79.66px;height:1px;"></div>
<div class="hl" style="left:436.44px;top:157px;width:79.66px;height:1px;"></div>
<div class="hl" style="left:524.1px;top:157px;width:79.66px;height:1px;"></div>
<div class="hl" style="left:611.76px;top:157px;width:79.66px;height:1px;"></div>
<div class="vd" style="left:59.5px;top:63px;width:1px;height:332.5px;"></div>
<div class="vl" style="left:168.96px;top:50px;width:1px;height:345.5px;"></div>
<div class="vl" style="left:256.62px;top:50px;width:1px;height:345.5px;"></div>
<div class="vl" style="left:344.28px;top:50px;width:1px;height:345.5px;"></div>
<div class="vl" style="left:431.94px;top:50px;width:1px;height:345.5px;"></div>
<div class="vl" style="left:519.6px;top:50px;width:1px;height:345.5px;"></div>
<div class="vl" style="left:607.26px;top:50px;width:1px;height:345.5px;"></div>
<div class="vl" style="left:694.92px;top:50px;width:1px;height:345.5px;"></div>
<div class="t" style="left:125.83px;top:51.6px;font-size:8px;line-height:10px;color:#44398c;font-weight:700;letter-spacing:0.3px;transform:translateX(-50%);transform-origin:center center;">Пн</div>
<div class="t" style="left:213.49px;top:51.6px;font-size:8px;line-height:10px;color:#44398c;font-weight:700;letter-spacing:0.3px;transform:translateX(-50%);transform-origin:center center;">Вт</div>
<div class="t" style="left:301.15px;top:51.6px;font-size:8px;line-height:10px;color:#44398c;font-weight:700;letter-spacing:0.3px;transform:translateX(-50%);transform-origin:center center;">Ср</div>
<div class="t" style="left:388.81px;top:51.6px;font-size:8px;line-height:10px;color:#44398c;font-weight:700;letter-spacing:0.3px;transform:translateX(-50%);transform-origin:center center;">Чт</div>
<div class="t" style="left:476.47px;top:51.6px;font-size:8px;line-height:10px;color:#44398c;font-weight:700;letter-spacing:0.3px;transform:translateX(-50%);transform-origin:center center;">Пт</div>
<div class="t" style="left:564.13px;top:51.6px;font-size:8px;line-height:10px;color:#44398c;font-weight:700;letter-spacing:0.3px;transform:translateX(-50%);transform-origin:center center;">Сб</div>
<div class="t" style="left:651.79px;top:51.6px;font-size:8px;line-height:10px;color:#44398c;font-weight:700;letter-spacing:0.3px;transform:translateX(-50%);transform-origin:center center;">Вс</div>
<svg style="left:698.3px;top:52.6px" width="9" height="6" viewBox="0 0 9 6" ><path d="M1.3 1.2l3.2 3.2l3.2-3.2" fill="none" stroke="#44398c" stroke-width="1.3"/></svg>
<div class="t" style="left:126.09px;top:159.6px;font-size:8px;line-height:10px;color:#8784c5;letter-spacing:-0.076px;transform:translateX(-50%);transform-origin:center center;">28 сентября</div>
<div class="t" style="left:213.75px;top:159.6px;font-size:8px;line-height:10px;color:#8784c5;letter-spacing:-0.076px;transform:translateX(-50%);transform-origin:center center;">29 сентября</div>
<div class="t" style="left:301.41px;top:159.6px;font-size:8px;line-height:10px;color:#8784c5;letter-spacing:-0.076px;transform:translateX(-50%);transform-origin:center center;">30 сентября</div>
<div class="t" style="left:389.13px;top:159.6px;font-size:8px;line-height:10px;color:#8784c5;letter-spacing:0.041px;transform:translateX(-50%);transform-origin:center center;">01 октября</div>
<div class="t" style="left:476.79px;top:159.6px;font-size:8px;line-height:10px;color:#8784c5;letter-spacing:0.041px;transform:translateX(-50%);transform-origin:center center;">02 октября</div>
<div class="t" style="left:564.45px;top:159.6px;font-size:8px;line-height:10px;color:#8784c5;letter-spacing:0.041px;transform:translateX(-50%);transform-origin:center center;">03 октября</div>
<div class="t" style="left:652.11px;top:159.6px;font-size:8px;line-height:10px;color:#8784c5;letter-spacing:0.041px;transform:translateX(-50%);transform-origin:center center;">04 октября</div>
<div class="t" style="left:61.3px;top:121.5px;font-size:7px;line-height:9px;color:#6a66a6;letter-spacing:-0.15px;">22:00</div>
<div class="t" style="left:61.3px;top:134.8px;font-size:7px;line-height:9px;color:#6a66a6;letter-spacing:-0.15px;">23:00</div>
<div class="t" style="left:61.3px;top:166.5px;font-size:7px;line-height:9px;color:#6a66a6;letter-spacing:-0.15px;">00:00</div>
<div class="t" style="left:61.3px;top:179.8px;font-size:7px;line-height:9px;color:#6a66a6;letter-spacing:-0.15px;">01:00</div>
<div class="t" style="left:61.3px;top:193.1px;font-size:7px;line-height:9px;color:#6a66a6;letter-spacing:-0.15px;">02:00</div>
<div class="t" style="left:61.3px;top:206.4px;font-size:7px;line-height:9px;color:#6a66a6;letter-spacing:-0.15px;">03:00</div>
<div class="t" style="left:61.3px;top:219.7px;font-size:7px;line-height:9px;color:#6a66a6;letter-spacing:-0.15px;">04:00</div>
<div class="t" style="left:61.3px;top:233px;font-size:7px;line-height:9px;color:#6a66a6;letter-spacing:-0.15px;">05:00</div>
<div class="t" style="left:61.3px;top:246.3px;font-size:7px;line-height:9px;color:#6a66a6;letter-spacing:-0.15px;">06:00</div>
<div class="t" style="left:61.3px;top:259.6px;font-size:7px;line-height:9px;color:#6a66a6;letter-spacing:-0.15px;">07:00</div>
<div class="t" style="left:61.3px;top:272.9px;font-size:7px;line-height:9px;color:#6a66a6;letter-spacing:-0.15px;">08:00</div>
<div class="t" style="left:61.3px;top:286.2px;font-size:7px;line-height:9px;color:#6a66a6;letter-spacing:-0.15px;">09:00</div>
<div class="t" style="left:61.3px;top:299.5px;font-size:7px;line-height:9px;color:#6a66a6;letter-spacing:-0.15px;">10:00</div>
<div class="t" style="left:61.3px;top:312.8px;font-size:7px;line-height:9px;color:#6a66a6;letter-spacing:-0.15px;">11:00</div>
<div class="t" style="left:61.3px;top:326.1px;font-size:7px;line-height:9px;color:#6a66a6;letter-spacing:-0.15px;">12:00</div>
<div class="t" style="left:61.3px;top:339.4px;font-size:7px;line-height:9px;color:#6a66a6;letter-spacing:-0.15px;">13:00</div>
<div class="t" style="left:61.3px;top:352.7px;font-size:7px;line-height:9px;color:#6a66a6;letter-spacing:-0.15px;">14:00</div>
<div class="t" style="left:61.3px;top:366px;font-size:7px;line-height:9px;color:#6a66a6;letter-spacing:-0.15px;">15:00</div>
<div class="t" style="left:61.3px;top:379.3px;font-size:7px;line-height:9px;color:#6a66a6;letter-spacing:-0.15px;">16:00</div>
<div class="t" style="left:61.3px;top:392.6px;font-size:7px;line-height:9px;color:#6a66a6;letter-spacing:-0.15px;">17:00</div>
<div style="left:706.2px;top:166.5px;width:3px;height:102.7px;background:#a19ed2;border-radius:2px"></div>
<div class="ev" style="left:256.75px;top:62.5px;width:87.5px;height:50px;background:#90d9a0;border-radius:0 0 5px 5px"></div>
<div class="dl" style="left:261.35px;top:67px;width:1px;height:41px;"></div>
<div class="tk" style="left:261.95px;top:107px;width:1.8px;height:1px;"></div>
<div class="t" style="left:264.75px;top:102.6px;font-size:7px;line-height:9px;color:rgba(255,255,255,.8);transform:scaleX(0.87);transform-origin:left center;">21:00</div>
<div class="t" style="left:300.5px;top:68.5px;font-size:7px;line-height:9px;color:rgba(255,255,255,.8);transform:translateX(-50%) scaleX(0.87);transform-origin:center center;">1 из 1</div>
<div style="left:265px;top:66px;width:79px;height:1px;background:repeating-linear-gradient(90deg,rgba(130,125,210,.75) 0 1px,transparent 1px 5.2px)"></div>
<div class="ev" style="left:169.25px;top:127px;width:87.25px;height:25.5px;background:#90d9a0;border-radius:5px"></div>
<div class="dl" style="left:173.85px;top:131.5px;width:1px;height:16.5px;"></div>
<div class="tk" style="left:174.45px;top:131.5px;width:1.8px;height:1px;"></div>
<div class="tk" style="left:174.45px;top:147px;width:1.8px;height:1px;"></div>
<div class="t" style="left:177.25px;top:128.1px;font-size:7px;line-height:9px;color:rgba(255,255,255,.8);transform:scaleX(0.87);transform-origin:left center;">22:00</div>
<div class="t" style="left:177.25px;top:142.6px;font-size:7px;line-height:9px;color:rgba(255,255,255,.8);transform:scaleX(0.87);transform-origin:left center;">00:00</div>
<div class="t" style="left:212.88px;top:135.25px;font-size:7px;line-height:9px;color:rgba(255,255,255,.8);transform:translateX(-50%) scaleX(0.87);transform-origin:center center;">1 из 1</div>
<div class="ev" style="left:344.75px;top:100.5px;width:87.5px;height:52px;background:#fb4c39;border-radius:5px"></div>
<div class="dl" style="left:349.35px;top:105px;width:1px;height:43px;"></div>
<div class="tk" style="left:349.95px;top:105px;width:1.8px;height:1px;"></div>
<div class="tk" style="left:349.95px;top:147px;width:1.8px;height:1px;"></div>
<div class="t" style="left:352.75px;top:101.6px;font-size:7px;line-height:9px;color:rgba(255,255,255,.9);transform:scaleX(0.87);transform-origin:left center;">20:00</div>
<div class="t" style="left:352.75px;top:142.6px;font-size:7px;line-height:9px;color:rgba(255,255,255,.9);transform:scaleX(0.87);transform-origin:left center;">00:00</div>
<div class="t" style="left:388.5px;top:122px;font-size:7px;line-height:9px;color:rgba(255,255,255,.9);transform:translateX(-50%) scaleX(0.87);transform-origin:center center;">0 из 1</div>
<div class="ev" style="left:432.5px;top:73.5px;width:21.5px;height:72.75px;background:#2bac47;border-radius:5px"></div>
<div class="t" style="left:443.25px;top:74.6px;font-size:7px;line-height:9px;color:rgba(255,255,255,.9);transform:translateX(-50%) scaleX(0.87);transform-origin:center center;">18:00</div>
<div class="t" style="left:443.25px;top:136.35px;font-size:7px;line-height:9px;color:rgba(255,255,255,.9);transform:translateX(-50%) scaleX(0.87);transform-origin:center center;">23:30</div>
<div class="t" style="left:443.25px;top:104.8px;font-size:7px;line-height:9px;color:rgba(255,255,255,.9);transform:translateX(-50%) scaleX(0.87);transform-origin:center center;">1 из 1</div>
<div class="ev" style="left:454.75px;top:66.75px;width:21.25px;height:85.75px;background:#fec42e;border-radius:5px"></div>
<div class="ev" style="left:459.75px;top:66.75px;width:60px;height:85.75px;background:#5f94cd;border-radius:0 5px 5px 0"></div>
<div class="dl" style="left:459.35px;top:71.25px;width:1px;height:76.75px;"></div>
<div class="tk" style="left:459.95px;top:71.25px;width:1.8px;height:1px;"></div>
<div class="tk" style="left:459.95px;top:147px;width:1.8px;height:1px;"></div>
<div class="t" style="left:463.35px;top:67.85px;font-size:7px;line-height:9px;color:rgba(255,255,255,.9);transform:scaleX(0.87);transform-origin:left center;">19:30</div>
<div class="t" style="left:463.35px;top:142.6px;font-size:7px;line-height:9px;color:rgba(255,255,255,.9);transform:scaleX(0.87);transform-origin:left center;">00:00</div>
<div class="t" style="left:487px;top:92.12px;font-size:7px;line-height:9px;color:rgba(255,255,255,.9);transform:translateX(-50%) scaleX(0.87);transform-origin:center center;">3 из 5</div>
<div class="t" style="left:487px;top:98.97px;font-size:7px;line-height:9px;color:rgba(255,255,255,.9);transform:translateX(-50%) scaleX(0.87);transform-origin:center center;">Киплинг Р.Е.</div>
<div class="t" style="left:487px;top:105.83px;font-size:7px;line-height:9px;color:rgba(255,255,255,.9);transform:translateX(-50%) scaleX(0.87);transform-origin:center center;">Казанцева А.О.</div>
<div class="t" style="left:487px;top:112.68px;font-size:7px;line-height:9px;color:rgba(255,255,255,.9);transform:translateX(-50%) scaleX(0.87);transform-origin:center center;">Керенский Ч.Б.</div>
<div class="ev" style="left:520.25px;top:62.5px;width:87.5px;height:63.5px;background:#fec42e;border-radius:0 0 5px 5px"></div>
<div class="dl" style="left:524.85px;top:67px;width:1px;height:54.5px;"></div>
<div class="tk" style="left:525.45px;top:120.5px;width:1.8px;height:1px;"></div>
<div class="t" style="left:528.25px;top:116.1px;font-size:7px;line-height:9px;color:rgba(255,255,255,.9);transform:scaleX(0.87);transform-origin:left center;">21:30</div>
<div class="t" style="left:564px;top:67.28px;font-size:7px;line-height:9px;color:rgba(255,255,255,.9);transform:translateX(-50%) scaleX(0.87);transform-origin:center center;">1 из 2</div>
<div class="t" style="left:564px;top:74.12px;font-size:7px;line-height:9px;color:rgba(255,255,255,.9);transform:translateX(-50%) scaleX(0.87);transform-origin:center center;">Михайлова В. Е.</div>
<div class="ev" style="left:608.25px;top:93.5px;width:86.75px;height:59.25px;background:#fb4c39;border-radius:5px"></div>
<div class="dl" style="left:612.85px;top:98px;width:1px;height:50.25px;"></div>
<div class="tk" style="left:613.45px;top:98px;width:1.8px;height:1px;"></div>
<div class="tk" style="left:613.45px;top:147.25px;width:1.8px;height:1px;"></div>
<div class="t" style="left:616.25px;top:94.6px;font-size:7px;line-height:9px;color:rgba(255,255,255,.9);transform:scaleX(0.87);transform-origin:left center;">19:30</div>
<div class="t" style="left:616.25px;top:142.85px;font-size:7px;line-height:9px;color:rgba(255,255,255,.9);transform:scaleX(0.87);transform-origin:left center;">00:00</div>
<div class="t" style="left:651.62px;top:118.62px;font-size:7px;line-height:9px;color:rgba(255,255,255,.9);transform:translateX(-50%) scaleX(0.87);transform-origin:center center;">0 из 1</div>
<div class="ev" style="left:81.75px;top:185px;width:14.25px;height:119px;background:#fec42e;border-radius:5px"></div>
<div class="ev" style="left:86px;top:185px;width:17px;height:119px;background:#5f94cd;border-radius:0 5px 5px 0"></div>
<div class="t" style="left:92.5px;top:186.1px;font-size:7px;line-height:9px;color:rgba(255,255,255,.9);transform:translateX(-50%) scaleX(0.87);transform-origin:center center;">01:00</div>
<div class="t" style="left:92.5px;top:294.1px;font-size:7px;line-height:9px;color:rgba(255,255,255,.9);transform:translateX(-50%) scaleX(0.87);transform-origin:center center;">10:00</div>
<div class="t" style="left:92.5px;top:238.7px;font-size:7px;line-height:9px;color:rgba(255,255,255,.9);transform:translateX(-50%) scaleX(0.87);transform-origin:center center;">1 из 2</div>
<div class="ev" style="left:103.5px;top:185px;width:21.5px;height:119px;background:#fec42e;border-radius:5px"></div>
<div class="t" style="left:114.25px;top:186.1px;font-size:7px;line-height:9px;color:rgba(255,255,255,.9);transform:translateX(-50%) scaleX(0.87);transform-origin:center center;">01:00</div>
<div class="t" style="left:114.25px;top:294.1px;font-size:7px;line-height:9px;color:rgba(255,255,255,.9);transform:translateX(-50%) scaleX(0.87);transform-origin:center center;">10:00</div>
<div class="t" style="left:114.25px;top:238.7px;font-size:7px;line-height:9px;color:rgba(255,255,255,.9);transform:translateX(-50%) scaleX(0.87);transform-origin:center center;">1 из 2</div>
<div class="ev" style="left:125.5px;top:171.5px;width:21.25px;height:92.25px;background:#2bac47;border-radius:5px"></div>
<div class="t" style="left:136.12px;top:172.6px;font-size:7px;line-height:9px;color:rgba(255,255,255,.9);transform:translateX(-50%) scaleX(0.87);transform-origin:center center;">00:00</div>
<div class="t" style="left:136.12px;top:253.85px;font-size:7px;line-height:9px;color:rgba(255,255,255,.9);transform:translateX(-50%) scaleX(0.87);transform-origin:center center;">07:00</div>
<div class="t" style="left:136.12px;top:212.1px;font-size:7px;line-height:9px;color:rgba(255,255,255,.9);transform:translateX(-50%) scaleX(0.87);transform-origin:center center;">3 из 3</div>
<div class="ev" style="left:147.5px;top:171.5px;width:21.25px;height:92.25px;background:#2bac47;border-radius:5px"></div>
<div class="t" style="left:158.12px;top:172.6px;font-size:7px;line-height:9px;color:rgba(255,255,255,.9);transform:translateX(-50%) scaleX(0.87);transform-origin:center center;">00:00</div>
<div class="t" style="left:158.12px;top:253.85px;font-size:7px;line-height:9px;color:rgba(255,255,255,.9);transform:translateX(-50%) scaleX(0.87);transform-origin:center center;">07:00</div>
<div class="t" style="left:158.12px;top:212.1px;font-size:7px;line-height:9px;color:rgba(255,255,255,.9);transform:translateX(-50%) scaleX(0.87);transform-origin:center center;">3 из 3</div>
<div class="ev" style="left:169.25px;top:225.75px;width:87.25px;height:80.25px;background:#fb4c39;border-radius:5px"></div>
<div class="dl" style="left:173.85px;top:230.25px;width:1px;height:71.25px;"></div>
<div class="tk" style="left:174.45px;top:230.25px;width:1.8px;height:1px;"></div>
<div class="tk" style="left:174.45px;top:300.5px;width:1.8px;height:1px;"></div>
<div class="t" style="left:177.25px;top:226.85px;font-size:7px;line-height:9px;color:rgba(255,255,255,.9);transform:scaleX(0.87);transform-origin:left center;">04:00</div>
<div class="t" style="left:177.25px;top:296.1px;font-size:7px;line-height:9px;color:rgba(255,255,255,.9);transform:scaleX(0.87);transform-origin:left center;">10:00</div>
<div class="t" style="left:212.88px;top:261.38px;font-size:7px;line-height:9px;color:rgba(255,255,255,.9);transform:translateX(-50%) scaleX(0.87);transform-origin:center center;">0 из 2</div>
<div class="ev" style="left:169.25px;top:331.2px;width:87.25px;height:52.3px;background:#2bac47;border-radius:5px"></div>
<div class="dl" style="left:173.85px;top:335.7px;width:1px;height:43.3px;"></div>
<div class="tk" style="left:174.45px;top:335.7px;width:1.8px;height:1px;"></div>
<div class="tk" style="left:174.45px;top:378px;width:1.8px;height:1px;"></div>
<div class="t" style="left:177.25px;top:332.3px;font-size:7px;line-height:9px;color:rgba(255,255,255,.9);transform:scaleX(0.87);transform-origin:left center;">12:00</div>
<div class="t" style="left:177.25px;top:373.6px;font-size:7px;line-height:9px;color:rgba(255,255,255,.9);transform:scaleX(0.87);transform-origin:left center;">16:00</div>
<div class="t" style="left:212.88px;top:346px;font-size:7px;line-height:9px;color:rgba(255,255,255,.9);transform:translateX(-50%) scaleX(0.87);transform-origin:center center;">2 из 2</div>
<div class="t" style="left:212.88px;top:352.85px;font-size:7px;line-height:9px;color:rgba(255,255,255,.9);transform:translateX(-50%) scaleX(0.87);transform-origin:center center;">Перепёлкина М.Е.</div>
<div class="t" style="left:212.88px;top:359.7px;font-size:7px;line-height:9px;color:rgba(255,255,255,.9);transform:translateX(-50%) scaleX(0.87);transform-origin:center center;">Кумаров Д.Н.</div>
<div class="ev" style="left:257.25px;top:185px;width:5.75px;height:119px;background:#fec42e;border-radius:3px"></div>
<div class="ev" style="left:264px;top:185px;width:5.75px;height:119px;background:#fec42e;border-radius:3px"></div>
<div class="ev" style="left:270.75px;top:171.5px;width:5.75px;height:92.25px;background:#5f94cd;border-radius:3px"></div>
<div class="ev" style="left:277.5px;top:171.5px;width:66.75px;height:92.25px;background:#2bac47;border-radius:5px"></div>
<div class="dl" style="left:282.1px;top:176px;width:1px;height:83.25px;"></div>
<div class="tk" style="left:282.7px;top:176px;width:1.8px;height:1px;"></div>
<div class="tk" style="left:282.7px;top:258.25px;width:1.8px;height:1px;"></div>
<div class="t" style="left:285.5px;top:172.6px;font-size:7px;line-height:9px;color:rgba(255,255,255,.9);transform:scaleX(0.87);transform-origin:left center;">00:00</div>
<div class="t" style="left:285.5px;top:253.85px;font-size:7px;line-height:9px;color:rgba(255,255,255,.9);transform:scaleX(0.87);transform-origin:left center;">07:00</div>
<div class="t" style="left:310.88px;top:202.85px;font-size:7px;line-height:9px;color:rgba(255,255,255,.9);transform:translateX(-50%) scaleX(0.87);transform-origin:center center;">3 из 3</div>
<div class="t" style="left:310.88px;top:209.7px;font-size:7px;line-height:9px;color:rgba(255,255,255,.9);transform:translateX(-50%) scaleX(0.87);transform-origin:center center;">Кипелов И.М.</div>
<div class="t" style="left:310.88px;top:216.55px;font-size:7px;line-height:9px;color:rgba(255,255,255,.9);transform:translateX(-50%) scaleX(0.87);transform-origin:center center;">Васильев А.В.</div>
<div class="t" style="left:310.88px;top:223.4px;font-size:7px;line-height:9px;color:rgba(255,255,255,.9);transform:translateX(-50%) scaleX(0.87);transform-origin:center center;">Михейчик К.М.</div>
<div class="ev" style="left:256.75px;top:371px;width:87.5px;height:24.5px;background:#2bac47;border-radius:5px 5px 0 0"></div>
<div class="dl" style="left:261.35px;top:375.5px;width:1px;height:15.5px;"></div>
<div class="tk" style="left:261.95px;top:375.5px;width:1.8px;height:1px;"></div>
<div class="t" style="left:264.75px;top:372.1px;font-size:7px;line-height:9px;color:rgba(255,255,255,.9);transform:scaleX(0.87);transform-origin:left center;">15:00</div>
<div class="ev" style="left:344.75px;top:278px;width:87.25px;height:78.75px;background:#fec42e;border-radius:5px"></div>
<div class="dl" style="left:349.35px;top:282.5px;width:1px;height:69.75px;"></div>
<div class="tk" style="left:349.95px;top:282.5px;width:1.8px;height:1px;"></div>
<div class="tk" style="left:349.95px;top:351.25px;width:1.8px;height:1px;"></div>
<div class="t" style="left:352.75px;top:279.1px;font-size:7px;line-height:9px;color:rgba(255,255,255,.9);transform:scaleX(0.87);transform-origin:left center;">08:00</div>
<div class="t" style="left:352.75px;top:346.85px;font-size:7px;line-height:9px;color:rgba(255,255,255,.9);transform:scaleX(0.87);transform-origin:left center;">14:00</div>
<div class="t" style="left:388.38px;top:309.45px;font-size:7px;line-height:9px;color:rgba(255,255,255,.9);transform:translateX(-50%) scaleX(0.87);transform-origin:center center;">1 из 2</div>
<div class="t" style="left:388.38px;top:316.3px;font-size:7px;line-height:9px;color:rgba(255,255,255,.9);transform:translateX(-50%) scaleX(0.87);transform-origin:center center;">Колотушкина Д.В.</div>
<div class="ev" style="left:432.5px;top:217.5px;width:10.25px;height:86.5px;background:#5f94cd;border-radius:4px"></div>
<div class="ev" style="left:443px;top:238.25px;width:66px;height:85.75px;background:#fec42e;border-radius:5px"></div>
<div class="dl" style="left:447.6px;top:242.75px;width:1px;height:76.75px;"></div>
<div class="tk" style="left:448.2px;top:242.75px;width:1.8px;height:1px;"></div>
<div class="tk" style="left:448.2px;top:318.5px;width:1.8px;height:1px;"></div>
<div class="t" style="left:451px;top:239.35px;font-size:7px;line-height:9px;color:rgba(255,255,255,.9);transform:scaleX(0.87);transform-origin:left center;">05:00</div>
<div class="t" style="left:451px;top:314.1px;font-size:7px;line-height:9px;color:rgba(255,255,255,.9);transform:scaleX(0.87);transform-origin:left center;">11:30</div>
<div class="t" style="left:476px;top:255.55px;font-size:7px;line-height:9px;color:rgba(255,255,255,.9);transform:translateX(-50%) scaleX(0.87);transform-origin:center center;">6 из 8</div>
<div class="t" style="left:476px;top:262.4px;font-size:7px;line-height:9px;color:rgba(255,255,255,.9);transform:translateX(-50%) scaleX(0.87);transform-origin:center center;">Пасечник С.К.</div>
<div class="t" style="left:476px;top:269.25px;font-size:7px;line-height:9px;color:rgba(255,255,255,.9);transform:translateX(-50%) scaleX(0.87);transform-origin:center center;">Стоянов А.А.</div>
<div class="t" style="left:476px;top:276.1px;font-size:7px;line-height:9px;color:rgba(255,255,255,.9);transform:translateX(-50%) scaleX(0.87);transform-origin:center center;">Быстрякова К.Р.</div>
<div class="t" style="left:476px;top:282.95px;font-size:7px;line-height:9px;color:rgba(255,255,255,.9);transform:translateX(-50%) scaleX(0.87);transform-origin:center center;">Михайлов Б.К.</div>
<div class="t" style="left:476px;top:289.8px;font-size:7px;line-height:9px;color:rgba(255,255,255,.9);transform:translateX(-50%) scaleX(0.87);transform-origin:center center;">Воронин К.А.</div>
<div class="t" style="left:476px;top:296.65px;font-size:7px;line-height:9px;color:rgba(255,255,255,.9);transform:translateX(-50%) scaleX(0.87);transform-origin:center center;">Старпёров Е.Е.</div>
<div class="ev" style="left:509.75px;top:251px;width:10px;height:86.25px;background:#fec42e;border-radius:4px"></div>
<div class="ev" style="left:432.5px;top:351.5px;width:87.25px;height:44px;background:#2bac47;border-radius:5px 5px 0 0"></div>
<div class="dl" style="left:437.1px;top:356px;width:1px;height:35px;"></div>
<div class="tk" style="left:437.7px;top:356px;width:1.8px;height:1px;"></div>
<div class="t" style="left:440.5px;top:352.6px;font-size:7px;line-height:9px;color:rgba(255,255,255,.9);transform:scaleX(0.87);transform-origin:left center;">13:30</div>
<div class="t" style="left:476.12px;top:362.45px;font-size:7px;line-height:9px;color:rgba(255,255,255,.9);transform:translateX(-50%) scaleX(0.87);transform-origin:center center;">2 из 2</div>
<div class="t" style="left:476.12px;top:369.3px;font-size:7px;line-height:9px;color:rgba(255,255,255,.9);transform:translateX(-50%) scaleX(0.87);transform-origin:center center;">Клюквин В.В.</div>
<div class="t" style="left:476.12px;top:376.15px;font-size:7px;line-height:9px;color:rgba(255,255,255,.9);transform:translateX(-50%) scaleX(0.87);transform-origin:center center;">Ефимов Д.В.</div>
<div class="t" style="left:440.1px;top:386.8px;font-size:7px;line-height:9px;color:#fff;transform:scaleX(0.87);transform-origin:left center;">17:00</div>
<div class="ev" style="left:520.25px;top:251.25px;width:87.5px;height:99px;background:#2bac47;border-radius:5px"></div>
<div class="dl" style="left:524.85px;top:255.75px;width:1px;height:90px;"></div>
<div class="tk" style="left:525.45px;top:255.75px;width:1.8px;height:1px;"></div>
<div class="tk" style="left:525.45px;top:344.75px;width:1.8px;height:1px;"></div>
<div class="t" style="left:528.25px;top:252.35px;font-size:7px;line-height:9px;color:rgba(255,255,255,.9);transform:scaleX(0.87);transform-origin:left center;">06:00</div>
<div class="t" style="left:528.25px;top:340.35px;font-size:7px;line-height:9px;color:rgba(255,255,255,.9);transform:scaleX(0.87);transform-origin:left center;">13:30</div>
<div class="t" style="left:564px;top:289.4px;font-size:7px;line-height:9px;color:rgba(255,255,255,.9);transform:translateX(-50%) scaleX(0.87);transform-origin:center center;">2 из 2</div>
<div class="t" style="left:564px;top:296.25px;font-size:7px;line-height:9px;color:rgba(255,255,255,.9);transform:translateX(-50%) scaleX(0.87);transform-origin:center center;">Коржиков К.А.</div>
<div class="t" style="left:564px;top:303.1px;font-size:7px;line-height:9px;color:rgba(255,255,255,.9);transform:translateX(-50%) scaleX(0.87);transform-origin:center center;">Бородинский Е.Е.</div>
<div class="ev" style="left:608.25px;top:218.25px;width:12.75px;height:85.75px;background:#6a2a8d;border-radius:5px"></div>
<div class="ev" style="left:612.75px;top:218.25px;width:24px;height:85.75px;background:#5f94cd;border-radius:0 5px 5px 0"></div>
<div class="t" style="left:621.6px;top:219.35px;font-size:7px;line-height:9px;color:rgba(255,255,255,.9);transform:translateX(-50%) scaleX(0.87);transform-origin:center center;">03:30</div>
<div class="t" style="left:621.6px;top:294.1px;font-size:7px;line-height:9px;color:rgba(255,255,255,.9);transform:translateX(-50%) scaleX(0.87);transform-origin:center center;">10:00</div>
<div class="t" style="left:621.6px;top:255px;font-size:7px;line-height:9px;color:rgba(255,255,255,.9);transform:translateX(-50%) scaleX(0.87);transform-origin:center center;">3 из 2</div>
<div class="ev" style="left:637.25px;top:238.25px;width:28.75px;height:85.75px;background:#fec42e;border-radius:5px"></div>
<div class="t" style="left:651.62px;top:239.35px;font-size:7px;line-height:9px;color:rgba(255,255,255,.9);transform:translateX(-50%) scaleX(0.87);transform-origin:center center;">05:00</div>
<div class="t" style="left:651.62px;top:314.1px;font-size:7px;line-height:9px;color:rgba(255,255,255,.9);transform:translateX(-50%) scaleX(0.87);transform-origin:center center;">11:30</div>
<div class="t" style="left:651.62px;top:275.5px;font-size:7px;line-height:9px;color:rgba(255,255,255,.9);transform:translateX(-50%) scaleX(0.87);transform-origin:center center;">6 из 8</div>
<div class="ev" style="left:666.75px;top:251.25px;width:28.5px;height:86px;background:#fec42e;border-radius:5px"></div>
<div class="t" style="left:681px;top:252.35px;font-size:7px;line-height:9px;color:rgba(255,255,255,.9);transform:translateX(-50%) scaleX(0.87);transform-origin:center center;">06:00</div>
<div class="t" style="left:681px;top:327.35px;font-size:7px;line-height:9px;color:rgba(255,255,255,.9);transform:translateX(-50%) scaleX(0.87);transform-origin:center center;">12:30</div>
<div class="t" style="left:681px;top:289px;font-size:7px;line-height:9px;color:rgba(255,255,255,.9);transform:translateX(-50%) scaleX(0.87);transform-origin:center center;">1 из 2</div>
<div style="left:54.3px;top:395.7px;width:661.1px;height:5.2px;background:#fdfdff;border-radius:0 0 7px 7px"></div>
<div style="left:54.5px;top:50px;width:134px;height:71.5px;background:#fff;border-radius:6px 6px 7px 7px;box-shadow:0 3px 8px rgba(80,70,150,.16)"></div>
<div style="left:56.5px;top:88px;width:129.5px;height:13.5px;background:#f4f4fb;border-radius:7px"></div>
<div class="t" style="left:61px;top:53.9px;font-size:8px;line-height:10px;color:#2f2f3a;">Уборщик</div>
<div class="t" style="left:182.3px;top:53.9px;font-size:8px;line-height:10px;color:#3a3a45;transform:translateX(-100%);transform-origin:right center;"><span style="color:#9d9acb">2/2</span></div>
<div class="t" style="left:61px;top:71.9px;font-size:8px;line-height:10px;color:#2f2f3a;">Кассир</div>
<div class="t" style="left:182.3px;top:71.9px;font-size:8px;line-height:10px;color:#3a3a45;transform:translateX(-100%);transform-origin:right center;"><span style="color:#2bac47">1</span>/2 (<span style="color:#f4473a">1</span>)</div>
<div class="t" style="left:61px;top:89.9px;font-size:8px;line-height:10px;color:#2f2f3a;">РТЗ</div>
<div class="t" style="left:182.3px;top:89.9px;font-size:8px;line-height:10px;color:#3a3a45;transform:translateX(-100%);transform-origin:right center;"><span style="color:#2bac47">3</span>/5 (<span style="color:#f4473a">2</span>)</div>
<div class="t" style="left:61px;top:107.9px;font-size:8px;line-height:10px;color:#2f2f3a;">Курьер</div>
<div class="t" style="left:182.3px;top:107.9px;font-size:8px;line-height:10px;color:#3a3a45;transform:translateX(-100%);transform-origin:right center;"><span style="color:#9d9acb">6/6</span></div>
</div></div>
</div></body></html>
